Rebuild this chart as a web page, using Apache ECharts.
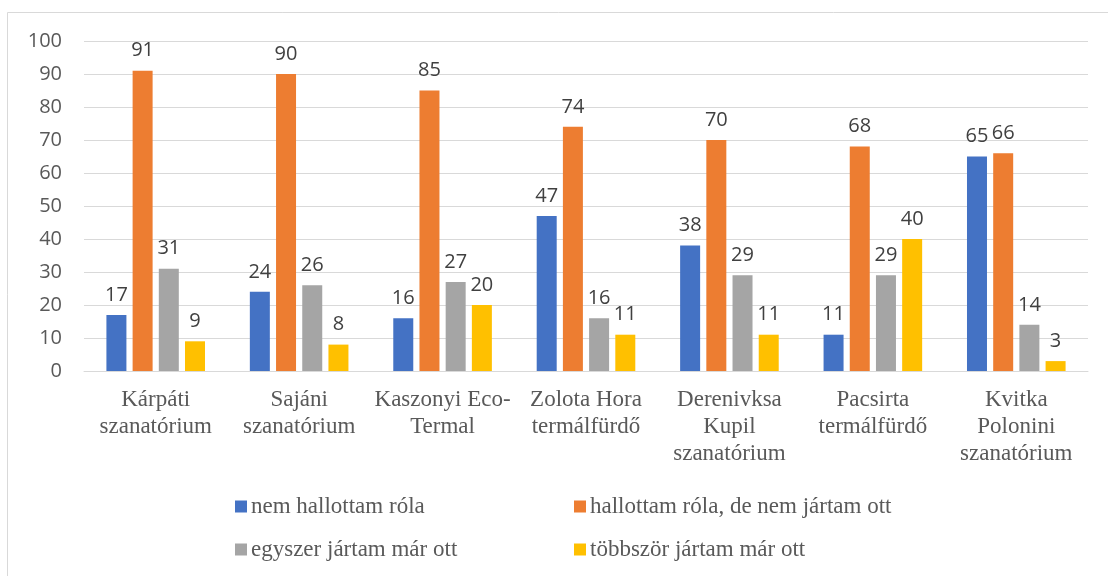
<!DOCTYPE html>
<html>
<head>
<meta charset="utf-8">
<script src="https://cdn.jsdelivr.net/npm/echarts@6/dist/echarts.min.js"></script>
<style>
  html, body { margin: 0; padding: 0; background: #fff; }
  #chart { width: 1108px; height: 576px; }
</style>
</head>
<body>
<div id="chart"></div>
<script>
// categories
const categories = [
  'Kárpáti\nszanatórium',
  'Sajáni\nszanatórium',
  'Kaszonyi Eco-\nTermal',
  'Zolota Hora\ntermálfürdő',
  'Derenivksa\nKupil\nszanatórium',
  'Pacsirta\ntermálfürdő',
  'Kvitka\nPolonini\nszanatórium'
]

// series values
const nemHallottam = [17, 24, 16, 47, 38, 11, 65]
const hallottamNemJartam = [91, 90, 85, 74, 70, 68, 66]
const egyszerJartam = [31, 26, 27, 16, 29, 29, 14]
const tobbszorJartam = [9, 8, 20, 11, 11, 40, 3]

const seriesNames = [
  'nem hallottam róla',
  'hallottam róla, de nem jártam ott',
  'egyszer jártam már ott',
  'többször jártam már ott'
]
const seriesColors = ['#4472C4', '#ED7D31', '#A5A5A5', '#FFC000']
const seriesValues = [nemHallottam, hallottamNemJartam, egyszerJartam, tobbszorJartam]

// y axis ticks
const yMin = 0
const yMax = 100
const yStep = 10

const sansFont = '"Open Sans", "Liberation Sans", sans-serif'
const serifFont = '"Liberation Serif", "DejaVu Serif", serif'

const chart = echarts.init(document.getElementById('chart'), null, { renderer: 'canvas' })

// legend: 2 x 2 elrendezés
const legendPos = [
  { left: 230, top: 490 },
  { left: 569, top: 490 },
  { left: 230, top: 533 },
  { left: 569, top: 533 }
]

chart.setOption({
  animation: false,
  backgroundColor: '#fff',
  graphic: [
    {
      type: 'rect',
      shape: { x: 7.5, y: 12.5, width: 1120, height: 600 },
      style: { fill: 'none', stroke: '#d9d9d9', lineWidth: 1 },
      silent: true
    }
  ],
  legend: legendPos.map((p, i) => ({
    left: p.left,
    top: p.top,
    itemWidth: 12,
    itemHeight: 12,
    itemGap: 5,
    icon: 'rect',
    data: [seriesNames[i]],
    textStyle: {
      fontFamily: serifFont,
      fontSize: 23,
      color: '#595959',
      padding: [0, 0, 0, -1]
    }
  })),
  grid: {
    left: 84,
    right: 20,
    top: 41,
    bottom: 205
  },
  xAxis: {
    type: 'category',
    data: categories,
    axisLine: { lineStyle: { color: '#d9d9d9', width: 1 } },
    axisTick: { show: false },
    axisLabel: {
      interval: 0,
      margin: 15,
      fontFamily: serifFont,
      fontSize: 23,
      lineHeight: 27,
      color: '#595959'
    }
  },
  yAxis: {
    type: 'value',
    min: yMin,
    max: yMax,
    interval: yStep,
    axisLine: { show: false },
    axisTick: { show: false },
    axisLabel: {
      margin: 22,
      fontFamily: sansFont,
      fontSize: 20,
      color: '#595959'
    },
    splitLine: { lineStyle: { color: '#d9d9d9', width: 1 } }
  },
  series: seriesValues.map((vals, i) => ({
    name: seriesNames[i],
    type: 'bar',
    data: vals,
    barWidth: 20,
    barGap: '31%',
    itemStyle: { color: seriesColors[i] },
    label: {
      show: true,
      position: 'top',
      distance: 10,
      fontFamily: sansFont,
      fontSize: 20,
      color: '#404040'
    }
  }))
})
</script>
</body>
</html>
